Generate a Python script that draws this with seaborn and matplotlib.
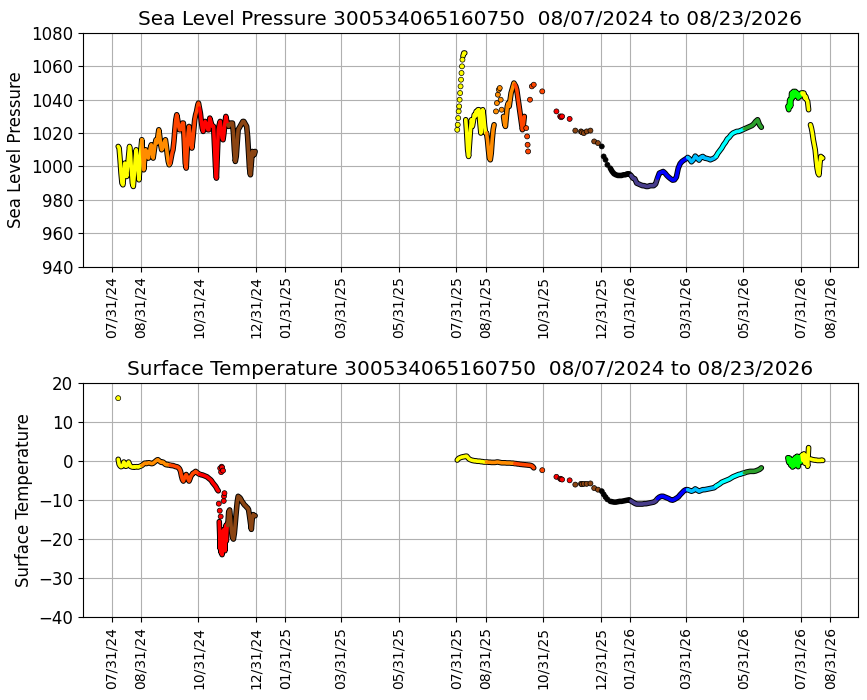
import pandas as pd
import matplotlib
matplotlib.use('Agg')
import matplotlib.pyplot as plt
import matplotlib.dates as mdates
import seaborn as sns

BUOY = '300534065160750'
PERIOD = '08/07/2024 to 08/23/2026'

# one colour per calendar month
month_colors = {1: 'black', 2: 'darkslateblue', 3: 'blue', 4: 'deepskyblue',
                5: 'cyan', 6: 'tab:green', 7: 'lime', 8: 'yellow',
                9: 'darkorange', 10: 'orangered', 11: 'red', 12: 'saddlebrown'}

tick_dates = ['2024-07-31', '2024-08-31', '2024-10-31', '2024-12-31', '2025-01-31',
              '2025-03-31', '2025-05-31', '2025-07-31', '2025-08-31', '2025-10-31',
              '2025-12-31', '2026-01-31', '2026-03-31', '2026-05-31', '2026-07-31',
              '2026-08-31']

# ---------------- sea level pressure (hPa) ----------------
# 2024 season, daily from 08/07
slp_2024 = [1012, 1011, 1004, 996, 990, 989, 996, 1002, 998, 994, 1000, 1006, 1012,
            1008, 998, 990, 988, 995, 1004, 1010, 1006, 998, 992, 1000, 1010,
            1016, 1006, 998, 1004, 1010, 1009, 1007, 1005, 1008, 1011,
            1013, 1009, 1005, 1009, 1013, 1016, 1014, 1018, 1022, 1018,
            1013, 1010, 1011, 1013, 1015, 1016, 1012, 1007, 1003, 1001,
            1002, 1005, 1008, 1010, 1015, 1022, 1028, 1031, 1028, 1024,
            1022, 1022, 1024, 1026, 1026, 1015, 1002, 999, 1010, 1020,
            1024, 1019, 1013, 1011, 1016, 1022, 1028, 1031, 1033, 1036, 1038,
            1035, 1032, 1027, 1023, 1021, 1024, 1027, 1026, 1024, 1022,
            1022, 1029, 1027, 1025, 1024, 1024, 1012, 1000, 993, 1008,
            1022, 1025, 1027, 1022, 1017, 1016, 1020, 1026, 1030, 1027,
            1025, 1024, 1025, 1026, 1026, 1026, 1020, 1010, 1003, 1006,
            1014, 1022, 1023, 1024, 1025, 1026, 1027, 1027, 1026, 1025,
            1024, 1018, 1008, 999, 995, 1002, 1009, 1008, 1007, 1009]
# 2025 summer pieces, daily
slp_2025_top = [1066, 1068, 1068]                       # from 08/07/25
slp_2025_aug = [1028, 1020, 1010, 1006, 1014, 1022, 1028, 1024, 1027, 1031,
                1030, 1033, 1031, 1034, 1034, 1026, 1020, 1028, 1034, 1030,
                1024, 1020,
                1020, 1016, 1010, 1005, 1004, 1008, 1016, 1022, 1025]  # from 08/10/25
slp_2025_sep = [1030, 1026, 1024, 1030, 1036, 1038, 1036, 1040, 1044, 1046, 1048, 1050,
                1049, 1048, 1046, 1042, 1038, 1034, 1030, 1026, 1022, 1025, 1030]  # from 09/19/25
# isolated reports (pressure only)
slp_dot_dates = ['2025-08-01 00:00', '2025-08-01 12:00', '2025-08-02 00:00', '2025-08-02 12:00',
                 '2025-08-03 00:00', '2025-08-03 12:00', '2025-08-04 00:00', '2025-08-04 12:00',
                 '2025-08-05 00:00', '2025-08-05 12:00', '2025-08-06 00:00', '2025-08-06 12:00',
                 '2025-09-11', '2025-09-12', '2025-09-13', '2025-09-14', '2025-09-15',
                 '2025-09-16', '2025-09-17',
                 '2025-10-13', '2025-10-14', '2025-10-14 12:00', '2025-10-15', '2025-10-17',
                 '2025-10-19', '2025-10-21']
slp_dots = [1022, 1025, 1029, 1033, 1036, 1040, 1044, 1048, 1052, 1056, 1060, 1064,
            1033, 1038, 1043, 1046, 1047, 1040, 1034,
            1023, 1018, 1013, 1009, 1040, 1048, 1049]

# ---------------- surface temperature (C) ----------------
temp_2024 = [0.5, -0.8, -1.2, -1.4, -1.3, -0.9, -0.2, -0.9, -1.3, -1.2,
             -0.6, -0.2, -0.8, -1.3, -1.4, -1.5, -1.5, -1.4, -1.5, -1.4,
             -1.4, -1.5, -1.4, -1.3, -1.2,
             -1.1, -0.9, -0.7, -0.5, -0.5, -0.6, -0.5, -0.4, -0.4, -0.5,
             -0.6, -0.6, -0.5, -0.3, -0.1, 0.1, 0.3, 0.4, 0.2, 0.0,
             -0.2, -0.3, -0.2, -0.3, -0.6, -0.8, -0.9, -0.8, -0.9, -1.0,
             -1.0, -1.1, -1.1, -1.1, -1.2, -1.3, -1.4, -1.4, -1.5, -1.7,
             -2.0, -2.6, -3.8, -4.7, -5.1, -4.4, -3.8, -3.4, -3.9, -4.6,
             -5.1, -4.5, -3.8, -3.5, -3.1, -3.0, -2.8, -2.6, -2.8, -3.0, -3.2,
             -3.3, -3.4, -3.5, -3.5, -3.6, -3.7, -3.8, -3.9, -4.0, -4.2,
             -4.4, -4.6, -4.8, -5.1, -5.5, -5.8, -6.1, -6.4, -6.8, -7.3, -7.6]
temp_2024_nov = [-15.5, -19.0, -22.5, -18.0, -23.5, -20.0, -24.0, -21.0, -19.0,
                 -22.5, -17.5, -21.0, -23.0, -19.5, -16.5, -20.5, -18.0, -16.0]  # 12-hourly from 11/22
temp_2024_dec = [-16.5, -13.0, -12.5, -15.0, -18.0, -19.5, -20.0, -18.5, -15.8, -13.0,
                 -10.5, -9.0, -9.2, -9.4, -9.8, -10.3, -10.6, -11.0, -11.3, -11.5,
                 -11.8, -12.0, -12.4, -14.0, -15.8, -17.5, -14.5, -13.7, -14.0, -14.0]
temp_2025 = [0.3, 0.6, 0.8, 0.9, 1.0, 1.1, 1.1, 1.2, 1.2, 1.3,
             1.3, 1.0, 0.7, 0.5, 0.4, 0.3, 0.2, 0.2, 0.1, 0.1,
             0.1, 0.0, 0.0, 0.0, 0.0, -0.1, -0.1, -0.1, -0.2, -0.2, -0.2,
             -0.2, -0.2, -0.25, -0.25, -0.25, -0.3, -0.3, -0.3, -0.3, -0.3,
             -0.25, -0.2, -0.2, -0.25, -0.3, -0.35, -0.4, -0.4, -0.4, -0.4,
             -0.4, -0.45, -0.45, -0.45, -0.45, -0.45, -0.5, -0.5, -0.5, -0.55,
             -0.6, -0.6, -0.65, -0.7, -0.7, -0.75, -0.8, -0.8, -0.85, -0.85,
             -0.9, -0.9, -0.95, -0.95, -1.0, -1.0, -1.05, -1.1, -1.2, -1.4, -1.7]
temp_dot_dates = ['2024-08-07', '2024-11-21 12:00', '2024-11-22 12:00', '2024-11-23 12:00',
                  '2024-11-23', '2024-11-24', '2024-11-24 12:00', '2024-11-25', '2024-11-26',
                  '2024-11-26 18:00', '2024-11-27', '2024-11-27 12:00']
temp_dots = [16.2, -10.9, -12.7, -14.2, -1.8, -2.8, -1.4, -1.6, -2.4, -10.2, -9.0, -8.2]

# ---------------- shared: sparse late 2025, winter, summer 2026 ----------------
gap_dates = ['2025-10-30', '2025-11-14', '2025-11-18', '2025-11-19', '2025-11-20', '2025-11-28',
             '2025-12-04', '2025-12-10', '2025-12-11', '2025-12-13', '2025-12-16', '2025-12-20',
             '2025-12-24', '2025-12-28', '2026-01-01', '2026-01-03', '2026-01-05', '2026-01-07']
gap_slp = [1045, 1033, 1030, 1029.5, 1030, 1028.5, 1021.5, 1021, 1020.5, 1020, 1021, 1021.5,
           1015, 1014, 1012, 1006, 1004, 1001]
gap_temp = [-2.3, -4.0, -4.5, -4.6, -4.7, -4.9, -6.0, -5.8, -5.9, -5.8, -5.8, -5.7,
            -6.9, -7.3, -7.7, -8.5, -9.2, -9.8]

# every 2 days from 01/10/26
slp_winter = [999, 997, 995.6, 995, 994.6, 994.6, 994.6, 995, 995, 995.6, 995.6,
              994.6, 993, 992.6, 990, 989.5, 989, 988.5, 988.5, 988, 988, 988.5, 988.5, 988.5, 989.5,
              993, 996, 996.5, 997, 996, 994.6, 993.5, 992.6, 991.8, 992, 993.6, 999, 1001.7,
              1003, 1003.8, 1004.5,
              1005.4, 1004.5, 1002.8, 1004, 1006.2, 1005, 1003.8, 1005.5, 1006, 1005, 1004.8,
              1004.5, 1004, 1004.5, 1005,
              1006, 1008, 1009.5, 1011, 1013, 1014.5, 1016.5, 1017.5, 1019, 1020, 1020.5,
              1021, 1021, 1021.5, 1022,
              1022.5, 1023, 1023.5, 1024, 1024.5, 1025.5, 1027, 1028, 1025, 1023.5]
temp_winter = [-10.3, -10.4, -10.5, -10.5, -10.4, -10.3, -10.3, -10.2, -10.1, -10.0, -9.9,
               -10.2, -10.5, -10.8, -11.0, -11.0, -11.0, -11.0, -10.9, -10.9, -10.8, -10.7,
               -10.6, -10.5, -10.2,
               -9.6, -9.2, -9.0, -9.0, -9.2, -9.4, -9.6, -9.9, -10.0, -9.8, -9.5, -9.2, -8.6,
               -8.1, -7.6, -7.3,
               -7.3, -7.5, -7.7, -7.5, -7.1, -7.4, -7.7, -7.5, -7.3, -7.3, -7.2, -7.1, -7.0,
               -6.9, -6.8,
               -6.4, -6.1, -5.8, -5.4, -5.2, -5.0, -4.8, -4.6, -4.3, -4.0, -3.8, -3.6, -3.4,
               -3.3, -3.1,
               -3.0, -2.8, -2.7, -2.6, -2.6, -2.6, -2.5, -2.3, -2.1, -1.7]

# daily from 07/17/26 and from 08/10/26
slp_2026_jul = [1036, 1034, 1040, 1036, 1044, 1041, 1045, 1042, 1045, 1043, 1044, 1041,
                1043, 1042, 1044, 1044, 1043, 1044, 1041, 1042, 1040, 1039, 1034]
slp_2026_aug = [1025, 1023, 1020, 1016, 1013, 1010, 1004, 999, 996, 995, 1002, 1006, 1005, 1005]
temp_2026_jul = [0.9, -0.3, 0.8, -1.0, 0.2, -1.5, 0.5, -1.2, 1.0, -0.6, 1.3, -1.4,
                 0.4, 1.2, -0.2, 1.6, 0.2, 1.9, -0.5, 1.5, 0.8, -1.3, 3.5]
temp_2026_aug = [0.6, 0.5, 0.4, 0.4, 0.3, 0.3, 0.3, 0.2, 0.2, 0.2, 0.2, 0.2, 0.3, 0.2]


def runs_frame(runs):
    parts = []
    for i, (start, step, values) in enumerate(runs):
        t = pd.date_range(start, periods=len(values), freq=step)
        parts.append(pd.DataFrame({'time': t, 'value': values, 'run': i}))
    df = pd.concat(parts, ignore_index=True)
    df['month'] = df['time'].dt.month
    return df


def dots_frame(dates, values):
    df = pd.DataFrame({'time': pd.to_datetime(dates, format='ISO8601'), 'value': values})
    df['month'] = df['time'].dt.month
    return df


def draw_panel(ax, runs, dots, title, ylabel, ylim):
    for _, run in runs.groupby('run'):
        run = run.reset_index(drop=True)
        # black outline under the coloured trace
        sns.lineplot(data=run, x='time', y='value', color='black', linewidth=4.0,
                     estimator=None, sort=False, solid_capstyle='round', zorder=3, ax=ax)
        blocks = (run['month'] != run['month'].shift()).cumsum()
        for _, piece in run.groupby(blocks):
            end = min(piece.index[-1] + 1, len(run) - 1)
            seg = run.loc[piece.index[0]:end]
            sns.lineplot(data=seg, x='time', y='value',
                         color=month_colors[piece['month'].iloc[0]], linewidth=2.6,
                         estimator=None, sort=False, solid_capstyle='round', zorder=4, ax=ax)
    sns.scatterplot(data=dots, x='time', y='value', hue='month', palette=month_colors,
                    s=13, edgecolor='black', linewidth=0.5, legend=False, zorder=5, ax=ax)
    ax.set_ylim(ylim)
    ax.set_title(title)
    ax.set_ylabel(ylabel)
    ax.set_xlabel('')
    ax.set_xticks(pd.to_datetime(tick_dates))
    ax.xaxis.set_major_formatter(mdates.DateFormatter('%m/%d/%y'))
    ax.tick_params(axis='x', labelrotation=90, labelsize=10)
    ax.grid(True)


def main():
    plt.rcParams['font.size'] = 12
    fig, (ax1, ax2) = plt.subplots(2, 1, figsize=(8.67, 7.0), dpi=100)
    fig.subplots_adjust(left=0.0957, right=0.9896, bottom=0.1186, top=0.9529, hspace=0.5)

    slp_runs = runs_frame([('2024-08-07', '1D', slp_2024),
                           ('2025-08-07', '1D', slp_2025_top),
                           ('2025-08-10', '1D', slp_2025_aug),
                           ('2025-09-19', '1D', slp_2025_sep),
                           ('2026-01-10', '2D', slp_winter),
                           ('2026-07-17', '1D', slp_2026_jul),
                           ('2026-08-10', '1D', slp_2026_aug)])
    slp_pts = pd.concat([dots_frame(slp_dot_dates, slp_dots),
                         dots_frame(gap_dates, gap_slp)], ignore_index=True)

    temp_runs = runs_frame([('2024-08-07', '1D', temp_2024),
                            ('2024-11-22', '12h', temp_2024_nov),
                            ('2024-12-01', '1D', temp_2024_dec),
                            ('2025-08-01', '1D', temp_2025),
                            ('2026-01-10', '2D', temp_winter),
                            ('2026-07-17', '1D', temp_2026_jul),
                            ('2026-08-10', '1D', temp_2026_aug)])
    temp_pts = pd.concat([dots_frame(temp_dot_dates, temp_dots),
                          dots_frame(gap_dates, gap_temp)], ignore_index=True)

    draw_panel(ax1, slp_runs, slp_pts, f'Sea Level Pressure {BUOY}  {PERIOD}',
               'Sea Level Pressure', (940, 1080))
    draw_panel(ax2, temp_runs, temp_pts, f'Surface Temperature {BUOY}  {PERIOD}',
               'Surface Temperature', (-40, 20))

    fig.savefig('out.png', dpi=100)
    plt.close(fig)


if __name__ == '__main__':
    main()
